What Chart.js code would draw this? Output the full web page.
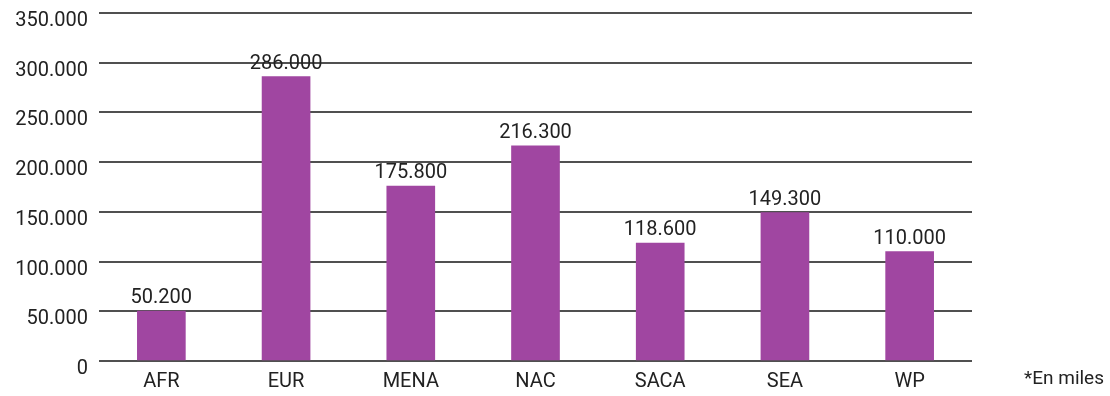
<!DOCTYPE html>
<html>
<head>
<meta charset="utf-8">
<script src="https://cdn.jsdelivr.net/npm/chart.js@4.4.0/dist/chart.umd.min.js"></script>
<style>
  html, body { margin: 0; padding: 0; background: #fff; }
  #wrap { width: 1110px; height: 396px; }
</style>
</head>
<body>
<div id="wrap"><canvas id="myChart" width="1110" height="396"></canvas></div>
<script>
const regions = ['AFR', 'EUR', 'MENA', 'NAC', 'SACA', 'SEA', 'WP'];
const values = [50200, 286000, 175800, 216300, 118600, 149300, 110000];
const yTicks = [0, 50000, 100000, 150000, 200000, 250000, 300000, 350000];
const footnote = '*En miles';

const BAR_COLOR = '#a046a1';
const TEXT_COLOR = '#222222';
const FONT = 'Roboto, "Liberation Sans", sans-serif';

// 286000 -> "286.000"
function fmt(v) {
  return String(v).replace(/\B(?=(\d{3})+(?!\d))/g, '.');
}

const barLabels = {
  id: 'barLabels',
  afterDatasetsDraw(chart) {
    const ctx = chart.ctx;
    const meta = chart.getDatasetMeta(0);
    ctx.save();
    ctx.font = '20px ' + FONT;
    ctx.fillStyle = TEXT_COLOR;
    ctx.textAlign = 'center';
    ctx.textBaseline = 'bottom';
    meta.data.forEach((bar, i) => {
      ctx.fillText(fmt(values[i]), bar.x, bar.y - 3);
    });
    // footnote
    ctx.font = '19px ' + FONT;
    ctx.textAlign = 'right';
    ctx.textBaseline = 'middle';
    ctx.fillText(footnote, 1104, 379);
    ctx.restore();
  }
};

const ctx = document.getElementById('myChart').getContext('2d');
const myChart = new Chart(ctx, {
  type: 'bar',
  data: {
    labels: regions,
    datasets: [{
      data: values,
      backgroundColor: BAR_COLOR,
      borderWidth: 0,
      barThickness: 48
    }]
  },
  options: {
    responsive: false,
    animation: false,
    layout: { padding: { left: 0, right: 138, top: 13, bottom: 0 } },
    plugins: {
      legend: { display: false },
      tooltip: { enabled: false }
    },
    scales: {
      x: {
        afterFit: (scale) => { scale.height = 35; },
        grid: { display: false },
        border: { display: false },
        ticks: {
          color: TEXT_COLOR,
          font: { family: FONT, size: 20 },
          padding: 1
        }
      },
      y: {
        min: 0,
        max: 350000,
        afterBuildTicks: (scale) => {
          scale.ticks = yTicks.map(v => ({ value: v }));
        },
        afterFit: (scale) => {
          scale.width = 99;
          scale.paddingTop = 0;
          scale.paddingBottom = 0;
        },
        grid: { color: '#505050', lineWidth: 2, drawTicks: false },
        border: { display: false },
        ticks: {
          color: TEXT_COLOR,
          font: { family: FONT, size: 20 },
          padding: 11,
          labelOffset: 8,
          callback: (v) => fmt(v)
        }
      }
    }
  },
  plugins: [barLabels]
});
</script>
</body>
</html>
